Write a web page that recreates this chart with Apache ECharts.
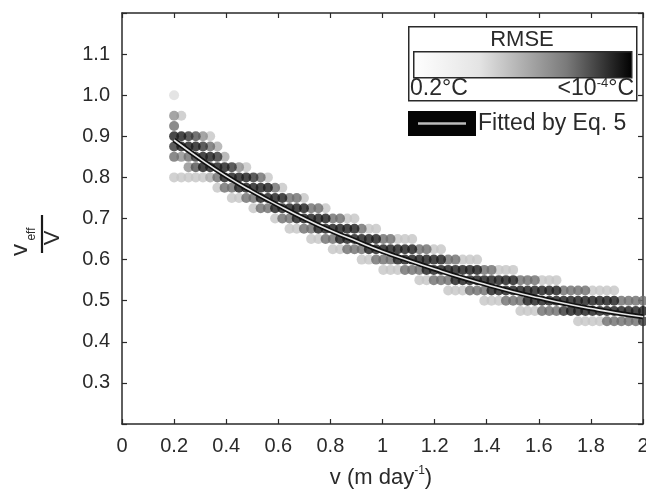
<!DOCTYPE html>
<html>
<head>
<meta charset="utf-8">
<script src="https://cdn.jsdelivr.net/npm/echarts@6/dist/echarts.min.js"></script>
<style>
  html, body { margin: 0; padding: 0; background: #fff; overflow: hidden; }
  #chart { width: 646px; height: 493px; }
</style>
</head>
<body>
<div id="chart"></div>
<script>
// Sweep grid along v (m/day): first column and spacing between columns
const gridStartV = 0.2;
const gridStepV = 1.8 / 65;

// Each row of the sweep: ratio value, first v-column, and darkness per column
// (0 = none ... 9 = black, i.e. smallest RMSE)
const rowRatio = [1.0, 0.95, 0.925, 0.9, 0.875, 0.85, 0.825, 0.8, 0.775, 0.75, 0.725,
  0.7, 0.675, 0.65, 0.625, 0.6, 0.575, 0.55, 0.525, 0.5, 0.475, 0.45];
const rowFirstCol = [0, 0, 0, 0, 0, 0, 2, 0, 6, 8, 11, 14, 16, 19, 22, 26, 29, 34, 38, 43, 48, 56];
const rowShade = [
  '2',
  '53',
  '6',
  '998753',
  '8999864',
  '65689984',
  '579999853',
  '33333469999863',
  '3669999963',
  '33669999663',
  '36699999663',
  '366999996633',
  '3366999999633',
  '336699999966333',
  '3366699999996633',
  '33666999999966333',
  '3336669999999966333',
  '33666999999999666333',
  '333666999999999966663333',
  '33366699999999999996666',
  '333666899999999999',
  '3333666668'
];

// Fitted curve (Eq. 5)
const fitV = [0.2, 0.3, 0.4, 0.5, 0.6, 0.7, 0.8, 0.9, 1.0, 1.1, 1.2, 1.3, 1.4, 1.5, 1.6, 1.7, 1.8, 1.9, 2.0];
const fitRatio = [0.891, 0.845, 0.803, 0.766, 0.732, 0.700, 0.671, 0.645, 0.620, 0.598, 0.577,
  0.557, 0.539, 0.522, 0.507, 0.493, 0.481, 0.470, 0.461];

// Axis ticks
const xTicks = { min: 0, max: 2, step: 0.2 };
const yTicks = { min: 0.2, max: 1.2, step: 0.1 };

const shadeColors = ['#ffffff', '#eeeeee', '#dddddd', '#c6c6c6', '#aaaaaa', '#8e8e8e',
  '#6e6e6e', '#505050', '#353535', '#1c1c1c'];

const FONT = 'Liberation Sans, Arial, sans-serif';
const INK = '#2a2a2a';

const dots = [];
rowRatio.forEach((ratio, r) => {
  const s = rowShade[r];
  for (let k = 0; k < s.length; k++) {
    const level = +s[k];
    if (!level) continue;
    const v = gridStartV + (rowFirstCol[r] + k) * gridStepV;
    dots.push([v, ratio, level]);
  }
});
dots.sort((a, b) => a[2] - b[2]);

const fitData = fitV.map((v, i) => [v, fitRatio[i]]);

const axisLine = { show: true, onZero: false, lineStyle: { color: INK, width: 1.5 } };
const axisTick = { show: true, inside: true, length: 5, lineStyle: { color: INK, width: 1.2 } };

const chart = echarts.init(document.getElementById('chart'), null, {
  renderer: 'canvas', width: 646, height: 493
});
chart.setOption({
  animation: false,
  backgroundColor: '#fff',
  grid: {
    left: 122, right: 3, top: 13, bottom: 69,
    containLabel: false, outerBoundsMode: 'none'
  },
  xAxis: [
    {
      type: 'value', position: 'bottom', min: xTicks.min, max: xTicks.max, interval: xTicks.step,
      axisLine, axisTick, splitLine: { show: false },
      axisLabel: {
        fontSize: 20, fontFamily: FONT, color: INK, margin: 12,
        formatter: v => String(Number(v.toFixed(1)))
      }
    },
    {
      type: 'value', position: 'top', min: xTicks.min, max: xTicks.max, interval: xTicks.step,
      axisLine, axisTick, splitLine: { show: false }, axisLabel: { show: false }
    }
  ],
  yAxis: [
    {
      type: 'value', position: 'left', min: yTicks.min, max: yTicks.max, interval: yTicks.step,
      axisLine, axisTick, splitLine: { show: false },
      axisLabel: {
        fontSize: 20, fontFamily: FONT, color: INK, margin: 12,
        formatter: v => (v < 0.25 || v > 1.15) ? '' : v.toFixed(1)
      }
    },
    {
      type: 'value', position: 'right', min: yTicks.min, max: yTicks.max, interval: yTicks.step,
      axisLine, axisTick, splitLine: { show: false }, axisLabel: { show: false }
    }
  ],
  series: [
    {
      type: 'scatter',
      data: dots,
      symbol: 'circle',
      symbolSize: 10,
      itemStyle: { color: p => shadeColors[p.data[2]] },
      z: 2
    },
    {
      type: 'line', data: fitData, smooth: true, showSymbol: false, symbol: 'none',
      lineStyle: { color: '#111', width: 5 }, z: 3
    },
    {
      type: 'line', data: fitData, smooth: true, showSymbol: false, symbol: 'none',
      lineStyle: { color: '#e6e6e6', width: 1.6 }, z: 4
    }
  ],
  graphic: [
    // RMSE colour scale
    {
      type: 'rect', left: 408, top: 26, z: 10,
      shape: { width: 228, height: 74 },
      style: { fill: '#fff', stroke: INK, lineWidth: 1.5 }
    },
    {
      type: 'text', z: 11, x: 522, y: 40,
      style: { text: 'RMSE', font: '22px ' + FONT, fill: INK, align: 'center', verticalAlign: 'middle' }
    },
    {
      type: 'rect', left: 413, top: 51, z: 11,
      shape: { width: 218, height: 26 },
      style: {
        fill: new echarts.graphic.LinearGradient(0, 0, 1, 0, [
          { offset: 0, color: '#ffffff' },
          { offset: 0.3, color: '#e4e4e4' },
          { offset: 0.7, color: '#7a7a7a' },
          { offset: 1, color: '#000000' }
        ]),
        stroke: INK, lineWidth: 1.5
      }
    },
    {
      type: 'text', z: 11, x: 410, y: 89,
      style: { text: '0.2°C', font: '23px ' + FONT, fill: INK, align: 'left', verticalAlign: 'middle' }
    },
    {
      type: 'text', z: 11, x: 634, y: 89,
      style: {
        text: '{a|<10}{s|-4}{a|°C}', align: 'right', verticalAlign: 'middle',
        rich: {
          a: { font: '23px ' + FONT, fill: INK, lineHeight: 24 },
          s: { font: '13px ' + FONT, fill: INK, verticalAlign: 'top', lineHeight: 24 }
        }
      }
    },
    // fitted-curve legend entry
    {
      type: 'rect', left: 408, top: 111, z: 10,
      shape: { width: 68, height: 25 },
      style: { fill: '#050505' }
    },
    {
      type: 'line', z: 11,
      shape: { x1: 418, y1: 123.5, x2: 466, y2: 123.5 },
      style: { stroke: '#bdbdbd', lineWidth: 2.5 }
    },
    {
      type: 'text', z: 11, x: 478, y: 124,
      style: { text: 'Fitted by Eq. 5', font: '23px ' + FONT, fill: INK, align: 'left', verticalAlign: 'middle' }
    },
    // x-axis title
    {
      type: 'text', z: 11, x: 381, y: 478,
      style: {
        text: '{a|v (m day}{s|-1}{a|)}', align: 'center', verticalAlign: 'middle',
        rich: {
          a: { font: '22px ' + FONT, fill: INK, lineHeight: 26 },
          s: { font: '12px ' + FONT, fill: INK, verticalAlign: 'top', lineHeight: 26 }
        }
      }
    },
    // y-axis title: v_eff / V, read bottom to top
    {
      type: 'group', x: 42, y: 234, rotation: Math.PI / 2, z: 11,
      children: [
        {
          type: 'line', shape: { x1: -19, y1: 0, x2: 19, y2: 0 },
          style: { stroke: '#1a1a1a', lineWidth: 2.2 }
        },
        {
          type: 'text', x: -16, y: -22,
          style: { text: 'v', font: '24px ' + FONT, fill: INK, align: 'center', verticalAlign: 'middle' }
        },
        {
          type: 'text', x: 0, y: -10,
          style: { text: 'eff', font: '12px ' + FONT, fill: INK, align: 'center', verticalAlign: 'middle' }
        },
        {
          type: 'text', x: -4, y: 11,
          style: { text: 'V', font: '22px ' + FONT, fill: INK, align: 'center', verticalAlign: 'middle' }
        }
      ]
    }
  ]
});
</script>
</body>
</html>
